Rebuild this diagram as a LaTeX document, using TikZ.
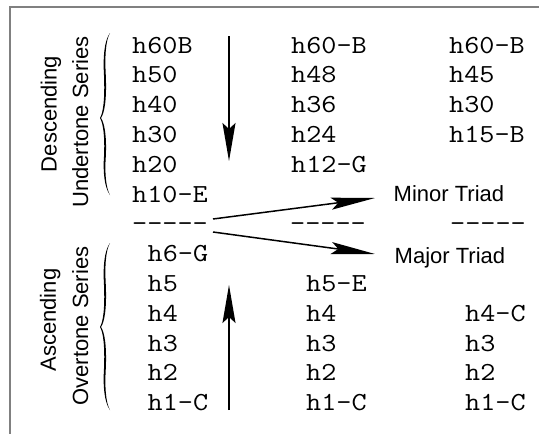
\documentclass[tikz,border=0pt]{standalone}
\usepackage{fontspec}
\usepackage{graphicx}
\newfontfamily\labelfont{Liberation Sans}
\usetikzlibrary{arrows.meta}
% typewriter harmonics, widened to a Courier-like pitch
\newcommand{\wide}[1]{\scalebox{1.13}[1]{#1}}
% a curly brace opening to the right: ends at x=#1, tip at x=#1-10,
% from y=#2 (top) through the tip at y=#3 to y=#4 (bottom)
\newcommand{\curlybrace}[4]{%
  \fill[black]
    (#1,#2) .. controls (#1-6,#2+8) and (#1-7,#2+25) .. (#1-6,{(#2+#3)/2})
            .. controls (#1-5,#3-18) and (#1-7,#3-5) .. (#1-10,#3)
            .. controls (#1-7,#3+5) and (#1-5,#3+18) .. (#1-6,{(#3+#4)/2})
            .. controls (#1-7,#4-25) and (#1-6,#4-8) .. (#1,#4)
            .. controls (#1-4.6,#4-8) and (#1-5.2,#4-25) .. (#1-4.2,{(#3+#4)/2})
            .. controls (#1-3.2,#3+18) and (#1-5.5,#3+5) .. (#1-9,#3)
            .. controls (#1-5.5,#3-5) and (#1-3.2,#3-18) .. (#1-4.2,{(#2+#3)/2})
            .. controls (#1-5.2,#2+25) and (#1-4.6,#2+8) .. (#1,#2) -- cycle;}
\begin{document}
\begin{tikzpicture}[x=1pt,y=-1pt,
  tone/.style={font=\fontsize{26}{30}\selectfont\ttfamily, inner sep=0pt, anchor=base west},
  lbl/.style={font=\fontsize{22}{26}\selectfont\labelfont, inner sep=0pt},
  side/.style={lbl, rotate=90, anchor=base},
  frame/.style={draw=black!50, line width=1.5pt},
  flow/.style={line width=1.6pt, -{Stealth[length=38pt,width=13pt,inset=6pt]}},
  fork/.style={line width=1.5pt, -{Stealth[length=44pt,width=12pt,inset=7pt]}}]
\useasboundingbox (0,0) rectangle (539,434);

% open frame: left and top edges only
\draw[frame] (10,434) -- (10,7) -- (539,7);

% undertone rows (0-5)
\foreach \t [count=\i from 0] in {h60B,h50,h40,h30,h20,h10-E}
  \node[tone] (a\i) at (132,53+29.8*\i) {\wide{\t}};
\foreach \t [count=\i from 0] in {h60-B,h48,h36,h24,h12-G}
  \node[tone] (b\i) at (291,53+29.8*\i) {\wide{\t}};
\foreach \t [count=\i from 0] in {h60-B,h45,h30,h15-B}
  \node[tone] (c\i) at (449,53+29.8*\i) {\wide{\t}};

% divider row (6)
\node[tone] (a6) at (132,53+29.8*6) {\wide{-----}};
\node[tone] (b6) at (290,53+29.8*6) {\wide{-----}};
\node[tone] (c6) at (450,53+29.8*6) {\wide{-----}};

% overtone rows (7-12)
\foreach \t [count=\i from 7] in {h6-G,h5,h4,h3,h2,h1-C}
  \node[tone] (a\i) at (147.5,53+29.8*\i) {\wide{\t}};
\foreach \t [count=\i from 8] in {h5-E,h4,h3,h2,h1-C}
  \node[tone] (b\i) at (306,53+29.8*\i) {\wide{\t}};
\foreach \t [count=\i from 9] in {h4-C,h3,h2,h1-C}
  \node[tone] (c\i) at (465,53+29.8*\i) {\wide{\t}};

% triad labels
\node[lbl, anchor=base west] (minor) at (393.5,201.5) {Minor Triad};
\node[lbl, anchor=base west] (major) at (394.5,263) {Major Triad};

% series titles
\node[side] (desc) at (56.5,114) {Descending};
\node[side] (under) at (88,122) {Undertone Series};
\node[side] (asc) at (56,320) {Ascending};
\node[side] (over) at (88,326) {Overtone Series};

% braces
\curlybrace{110}{33}{118}{195}
\curlybrace{110}{243}{327}{410}

% direction arrows
\coordinate (downStart) at (229,36);
\coordinate (downEnd) at (229,161);
\coordinate (upStart) at (229,410);
\coordinate (upEnd) at (229,285);
\draw[flow] (downStart) -- (downEnd);
\draw[flow] (upStart) -- (upEnd);

% triad arrows
\coordinate (forkMinor) at (213,219);
\coordinate (forkMajor) at (213,232);
\coordinate (minorTip) at (375,198);
\coordinate (majorTip) at (375,254);
\draw[fork] (forkMinor) -- (minorTip);
\draw[fork] (forkMajor) -- (majorTip);
\end{tikzpicture}
\end{document}
